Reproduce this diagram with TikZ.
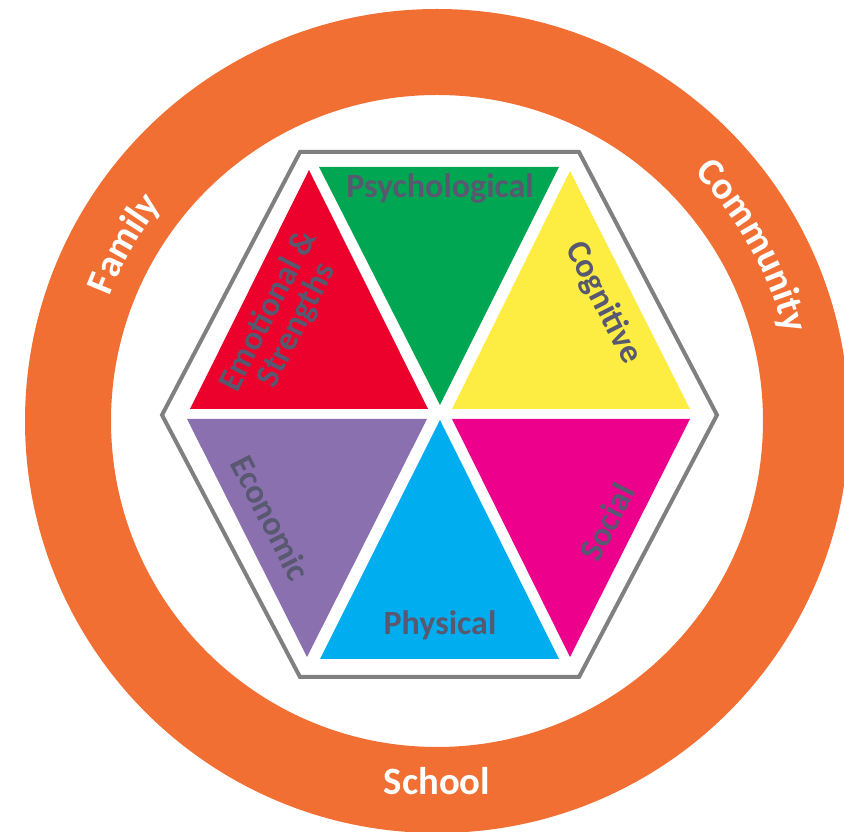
\documentclass[tikz,border=0pt]{standalone}
\usepackage{fontspec}
\setmainfont{Carlito}
\usetikzlibrary{decorations.text}

\definecolor{ring}{RGB}{242,111,52}
\definecolor{frame}{RGB}{128,128,128}
\definecolor{tred}{RGB}{236,0,44}
\definecolor{tgreen}{RGB}{0,166,81}
\definecolor{tyellow}{RGB}{253,237,66}
\definecolor{tmagenta}{RGB}{236,0,140}
\definecolor{tblue}{RGB}{0,174,239}
\definecolor{tpurple}{RGB}{138,112,175}
\definecolor{lbl}{RGB}{88,89,112}

\tikzset{
  facet/.style={text=lbl, font=\bfseries\fontsize{25.5pt}{23.5pt}\selectfont, inner sep=0pt},
  ringlabel/.style={text=white, font=\bfseries\fontsize{29pt}{32pt}\selectfont, inner sep=0pt},
}
\newcommand{\ringfont}{\bfseries\fontsize{29pt}{32pt}\selectfont}

\begin{document}
\begin{tikzpicture}[x=0.75pt, y=0.75pt]
\useasboundingbox (0,0) rectangle (844,832);
\clip (0,0) rectangle (844,832);

% outer ring
\coordinate (C) at (437,411);
\fill[ring, even odd rule] (C) circle[radius=412] (C) circle[radius=326];

% hexagonal frame
\coordinate (h1) at (300,680);
\coordinate (h2) at (579,680);
\coordinate (h3) at (717,417);
\coordinate (h4) at (579,155);
\coordinate (h5) at (300,155);
\coordinate (h6) at (162,417);
\draw[frame, line width=3pt, line join=miter] (h1) -- (h2) -- (h3) -- (h4) -- (h5) -- (h6) -- cycle;

% six triangles
\fill[tred]     (309,662) -- (190,423) -- (428,423) -- cycle;
\fill[tgreen]   (319,665) -- (559,665) -- (440,427) -- cycle;
\fill[tyellow]  (570,661) -- (452,423) -- (690,423) -- cycle;
\fill[tpurple]  (187,413) -- (427,413) -- (307,175) -- cycle;
\fill[tblue]    (440,412) -- (320,173) -- (559,173) -- cycle;
\fill[tmagenta] (452,413) -- (690,413) -- (570,175) -- cycle;

% facet labels
\node[facet, anchor=base] (psy) at (440,634) {Psychological};
\node[facet, anchor=base] (phy) at (440,197) {Physical};
\node[facet, rotate=-63] (cog) at (603,529) {Cognitive};
\node[facet, rotate=63] (soc) at (607,310) {Social};
\node[facet, rotate=-63] (eco) at (271,314) {Economic};
\node[facet, rotate=63, align=center] (emo) at (283,514) {Emotional \&\\Strengths};

% ring labels
\path[decorate, decoration={text along path, text align=center, text color=white,
  text={|\ringfont|Family}}]
  (C) ++(180.5:350) arc[start angle=180.5, end angle=120.5, radius=350];
\path[decorate, decoration={text along path, text align=center, text color=white,
  text={|\ringfont|Community}}]
  (C) ++(64:358) arc[start angle=64, end angle=-6, radius=358];
\node[ringlabel, anchor=base] (sch) at (437,37) {School};
\end{tikzpicture}
\end{document}
